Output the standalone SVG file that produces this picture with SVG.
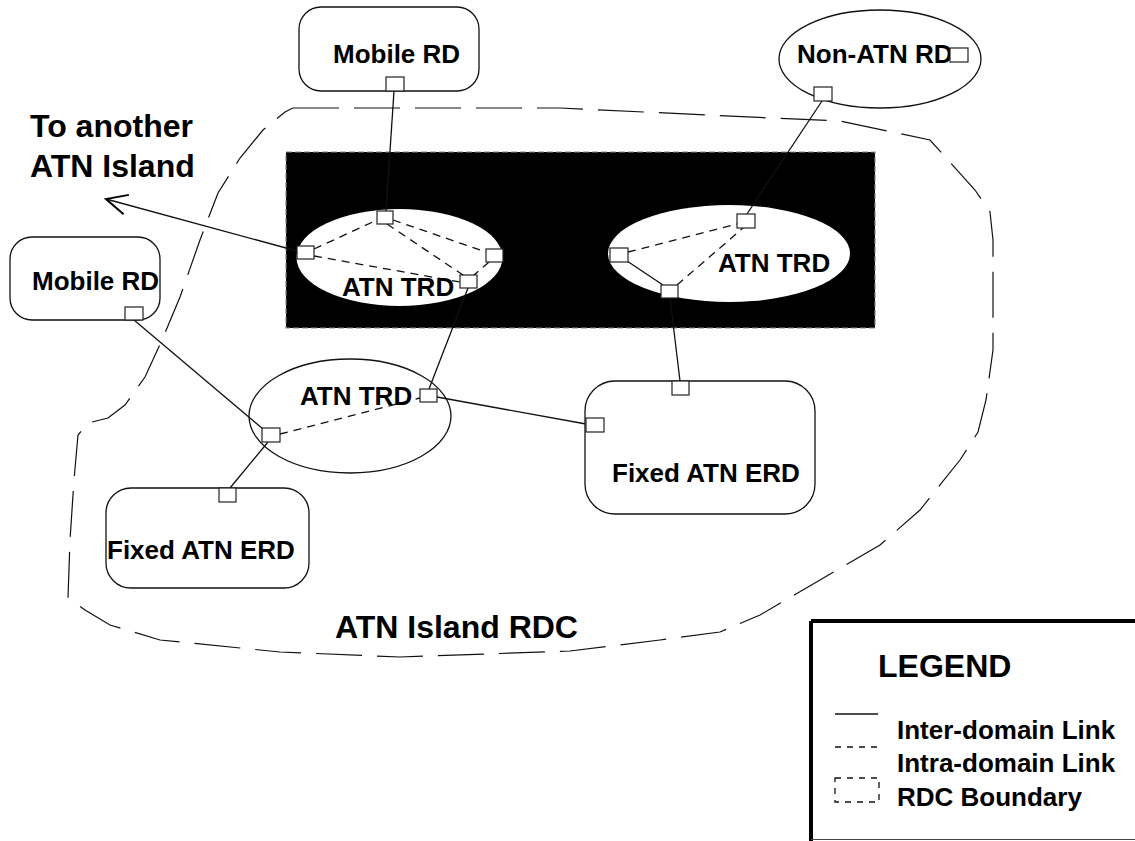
<svg xmlns="http://www.w3.org/2000/svg" width="1135" height="841" viewBox="0 0 1135 841">
<defs>
<style>
.shape{fill:#fff;stroke:#111;stroke-width:1.3}
.hole{fill:#fff;stroke:none}
.port{fill:#fff;stroke:#222;stroke-width:1.2}
.lbl{font-family:"Liberation Sans",Arial,sans-serif;font-weight:bold;font-size:26px;fill:#000}
.big{font-size:32px}
.inter{stroke:#111;stroke-width:1.3;fill:none}
.intra{stroke:#111;stroke-width:1.3;fill:none;stroke-dasharray:8 6}
.rdc{stroke:#111;stroke-width:1.2;fill:none;stroke-dasharray:46 15}
</style>
<marker id="openArrow" markerUnits="userSpaceOnUse" markerWidth="26" markerHeight="26" viewBox="-23 -13 26 26" refX="0" refY="0" orient="auto">
<path d="M-21,-10 L0,0 L-21,10" fill="none" stroke="#000" stroke-width="2"/>
</marker>
</defs>
<rect width="1135" height="841" fill="#fff"/>

<g id="rdc-boundary">
<path class="rdc" d="M293,108 L560,108 L770,118 L840,121 L930,140 L975,190 L990,212 L993,240 L993,350 L986,400 L978,432 L960,460 L920,510 L880,545 L820,580 L760,615 L720,632 L660,640 L570,651 L400,657 L280,652 L160,640 L110,625 L85,610 L68,598 L70,540 L74,480 L78,435 L88,423 L108,418 L125,405 L145,377 L162,340 L180,297 L200,240 L218,193 L240,158 L263,130 L285,112 Z"/>
<text class="lbl big" x="335" y="638">ATN Island RDC</text>
</g>

<g id="backbone">
<rect x="286" y="152" width="589" height="176" fill="#000" stroke="#888" stroke-width="1.2" stroke-dasharray="6 3"/>
</g>

<g id="trd-left">
<ellipse class="hole" cx="399.5" cy="257.5" rx="103" ry="48.5"/>
</g>
<g id="trd-right">
<ellipse class="hole" cx="729" cy="253.5" rx="121" ry="48.5"/>
</g>

<g id="connectors">
<line class="inter" x1="394" y1="91" x2="386" y2="211"/>
<line class="inter" x1="822" y1="101" x2="747" y2="214"/>
<line class="inter" x1="468" y1="288" x2="429" y2="389"/>
<line class="inter" x1="670" y1="298" x2="680" y2="381"/>
<line class="inter" x1="134" y1="320" x2="263" y2="429"/>
<line class="inter" x1="268" y1="442" x2="230" y2="488"/>
<line class="inter" x1="437" y1="397" x2="586" y2="424"/>
<line class="inter" x1="627" y1="261" x2="663" y2="285"/>
<line class="inter" x1="297" y1="251" x2="106" y2="199" marker-end="url(#openArrow)"/>
<line class="intra" x1="832" y1="92" x2="950" y2="59"/>
<line class="intra" x1="314" y1="249" x2="377" y2="220"/>
<line class="intra" x1="393" y1="220" x2="486" y2="252"/>
<line class="intra" x1="387" y1="224" x2="463" y2="275"/>
<line class="intra" x1="314" y1="256" x2="460" y2="282"/>
<line class="intra" x1="489" y1="262" x2="474" y2="275"/>
<line class="intra" x1="628" y1="252" x2="737" y2="224"/>
<line class="intra" x1="677" y1="285" x2="743" y2="228"/>
<line class="intra" x1="280" y1="434" x2="420" y2="398"/>
<line class="intra" x1="604" y1="421" x2="672" y2="393"/>
</g>

<g id="arrow-label">
<text class="lbl big" x="30" y="137">To another</text>
<text class="lbl big" x="30" y="177">ATN Island</text>
</g>

<g id="mobile-rd-top">
<rect class="shape" x="299" y="7" width="180" height="84" rx="22"/>
<text class="lbl" x="333" y="63">Mobile RD</text>
<rect class="port" x="386" y="77" width="18" height="14"/>
</g>

<g id="non-atn-rd">
<ellipse class="shape" cx="880" cy="59" rx="101" ry="49"/>
<text class="lbl" x="797" y="63">Non-ATN RD</text>
<rect class="port" x="950" y="48" width="18" height="14"/>
<rect class="port" x="814" y="87" width="18" height="14"/>
</g>

<g id="trd-left-ports">
<text class="lbl" x="342" y="296">ATN TRD</text>
<rect class="port" x="377" y="211" width="16" height="13"/>
<rect class="port" x="297" y="246" width="17" height="13"/>
<rect class="port" x="486" y="249" width="17" height="13"/>
<rect class="port" x="460" y="275" width="17" height="13"/>
</g>

<g id="trd-right-ports">
<text class="lbl" x="718" y="272">ATN TRD</text>
<rect class="port" x="737" y="214" width="18" height="14"/>
<rect class="port" x="610" y="248" width="18" height="14"/>
<rect class="port" x="661" y="285" width="17" height="13"/>
</g>

<g id="mobile-rd-left">
<rect class="shape" x="10" y="237" width="150" height="83" rx="22"/>
<text class="lbl" x="32" y="290">Mobile RD</text>
<rect class="port" x="125" y="307" width="18" height="13"/>
</g>

<g id="trd-bottom">
<ellipse class="shape" cx="350" cy="416" rx="101" ry="57" fill="none" style="fill:none"/>
<text class="lbl" x="300" y="405">ATN TRD</text>
<rect class="port" x="420" y="389" width="17" height="13"/>
<rect class="port" x="262" y="428" width="18" height="14"/>
</g>

<g id="fixed-erd-right">
<rect class="shape" x="585" y="381" width="230" height="133" rx="30"/>
<text class="lbl" x="612" y="482">Fixed ATN ERD</text>
<rect class="port" x="672" y="381" width="17" height="14"/>
<rect class="port" x="586" y="418" width="18" height="14"/>
</g>

<g id="fixed-erd-left">
<rect class="shape" x="106" y="488" width="203" height="100" rx="25"/>
<text class="lbl" x="107" y="559">Fixed ATN ERD</text>
<rect class="port" x="219" y="488" width="17" height="14"/>
</g>

<g id="legend">
<rect x="811" y="623" width="340" height="216" fill="#fff" stroke="none"/>
<line x1="811" y1="621" x2="1135" y2="621" stroke="#000" stroke-width="4"/>
<line x1="811" y1="621" x2="811" y2="841" stroke="#000" stroke-width="4"/>
<line x1="811" y1="839.5" x2="1135" y2="839.5" stroke="#444" stroke-width="1"/>
<text class="lbl big" x="878" y="677">LEGEND</text>
<line class="inter" x1="835" y1="714" x2="878" y2="714"/>
<text class="lbl" x="897" y="739">Inter-domain Link</text>
<line class="intra" x1="835" y1="747" x2="878" y2="747" style="stroke-dasharray:6 6"/>
<text class="lbl" x="897" y="772">Intra-domain Link</text>
<rect x="835" y="778" width="44" height="24" class="intra" style="stroke-dasharray:6 6"/>
<text class="lbl" x="897" y="806">RDC Boundary</text>
</g>
</svg>
